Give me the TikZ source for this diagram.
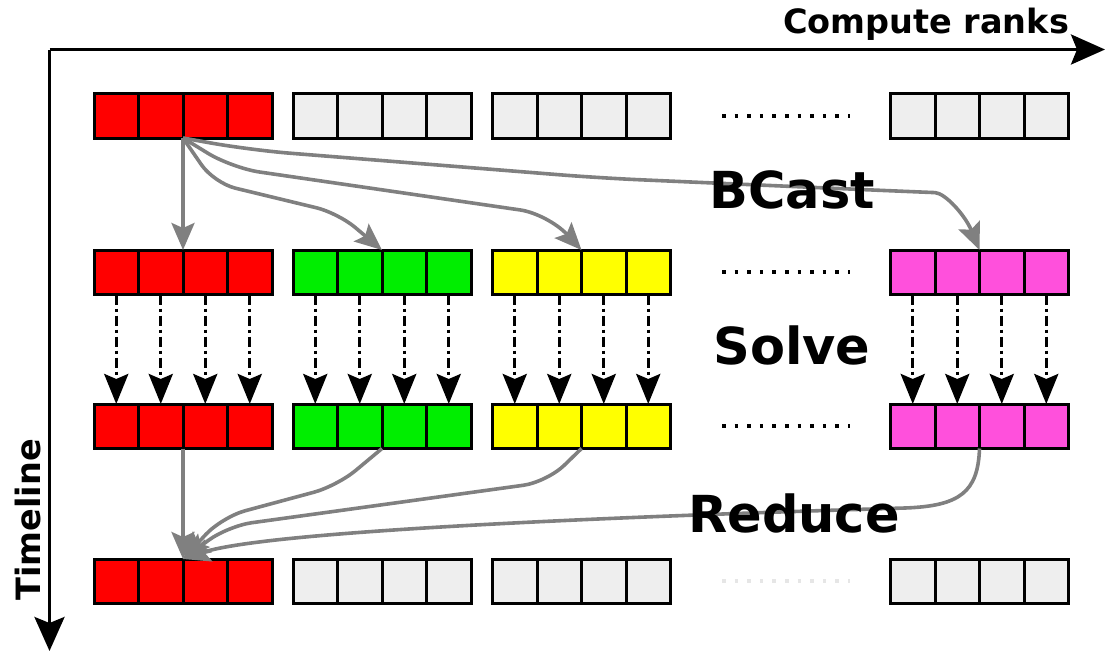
\documentclass[tikz,border=0pt]{standalone}
\usepackage{fontspec}
\setmainfont{DejaVu Sans}
\usetikzlibrary{arrows.meta}

\definecolor{cred}{RGB}{255,0,0}
\definecolor{cgreen}{RGB}{0,238,0}
\definecolor{cyellow}{RGB}{255,255,0}
\definecolor{cmagenta}{RGB}{255,80,220}
\definecolor{cidle}{RGB}{238,238,238}
\definecolor{flow}{RGB}{128,128,128}
\definecolor{faint}{RGB}{230,230,230}

% one block of four rank cells: name, left x, top y, fill colour
\newcommand\rankblock[4]{%
  \foreach \i in {0,...,3}{%
    \node[cell, fill=#4] (#1-\i) at ({#2+44.5*\i},#3) {};
  }%
}

\begin{document}
\begin{tikzpicture}[x=1pt,y=-1pt,
  cell/.style={draw=black, line width=3pt, minimum width=44.5pt,
    minimum height=44.5pt, inner sep=0pt, outer sep=0pt, anchor=north west},
  axis/.style={line width=3.2pt, line join=round,
    -{Stealth[length=34pt,width=30pt,inset=6pt]}},
  flowarrow/.style={draw=flow, line width=3.6pt,
    -{Stealth[length=27pt,width=23pt,inset=5pt]}},
  solvearrow/.style={line width=3.4pt,
    dash pattern=on 10pt off 4pt on 3pt off 4pt,
    -{Stealth[length=30pt,width=24pt,inset=5pt]}},
  dotline/.style={line width=3.5pt, dash pattern=on 3.5pt off 9.1pt},
  phase/.style={font=\fontsize{51}{60}\selectfont\bfseries},
  axislabel/.style={font=\fontsize{33.5}{40}\selectfont\bfseries}
]
\useasboundingbox (0,0) rectangle (1105,651);

% axes
\coordinate (corner) at (49.5,49.5);
\coordinate (xend) at (1105,49.5);
\coordinate (yend) at (49.5,651);
\draw[axis] (corner) -- (xend);
\draw[axis] (corner) -- (yend);
\node[axislabel] (xlabel) at (926,24) {Compute ranks};
\node[axislabel, rotate=90] (ylabel) at (28,520) {Timeline};

% rows of rank blocks
\rankblock{r1a}{94}{93.5}{cred}
\rankblock{r1b}{293}{93.5}{cidle}
\rankblock{r1c}{492.5}{93.5}{cidle}
\rankblock{r1d}{890.5}{93.5}{cidle}

\rankblock{r2a}{94}{250}{cred}
\rankblock{r2b}{293}{250}{cgreen}
\rankblock{r2c}{492.5}{250}{cyellow}
\rankblock{r2d}{890.5}{250}{cmagenta}

\rankblock{r3a}{94}{404}{cred}
\rankblock{r3b}{293}{404}{cgreen}
\rankblock{r3c}{492.5}{404}{cyellow}
\rankblock{r3d}{890.5}{404}{cmagenta}

\rankblock{r4a}{94}{559}{cred}
\rankblock{r4b}{293}{559}{cidle}
\rankblock{r4c}{492.5}{559}{cidle}
\rankblock{r4d}{890.5}{559}{cidle}

% ellipses between the last two blocks
\draw[dotline] (722,116) -- (850,116);
\draw[dotline] (722,272) -- (850,272);
\draw[dotline] (722,426) -- (850,426);
\draw[dotline, draw=faint] (722,581) -- (850,581);

% broadcast from the root rank
\draw[flowarrow] (r1a-1.south east) -- (r2a-1.north east);
\draw[flowarrow, rounded corners=22pt] (r1a-1.south east) -- (214,183) -- (338,213) -- (r2b-1.north east);
\draw[flowarrow, rounded corners=28pt] (r1a-1.south east) -- (232,168) -- (548,214) -- (r2c-1.north east);
\draw[flowarrow, rounded corners=40pt] (r1a-1.south east) -- (250,150) -- (600,178) -- (895,191)
  .. controls (945,193) and (965,215) .. (r2d-1.north east);

% local solves
\foreach \g in {a,b,c,d}{
  \foreach \i in {0,...,3}{
    \draw[solvearrow] (r2\g-\i.south) -- (r3\g-\i.north);
  }
}

% reduction onto the root rank
\draw[flowarrow] (r3a-1.south east) -- (r4a-1.north east);
\draw[flowarrow, rounded corners=24pt] (r3b-1.south east) -- (337,486) -- (222,517) -- (r4a-1.north east);
\draw[flowarrow, rounded corners=24pt] (r3c-1.south east) -- (547,482) -- (228,526) -- (r4a-1.north east);
\draw[flowarrow] (r3d-1.south east) .. controls (978,492) and (960,506) .. (905,508)
  .. controls (500,520) and (255,535) .. (r4a-1.north east);

% phase labels
\node[phase] (bcast) at (792,190) {BCast};
\node[phase] (solve) at (792,345) {Solve};
\node[phase] (reduce) at (794,513) {Reduce};
\end{tikzpicture}
\end{document}
